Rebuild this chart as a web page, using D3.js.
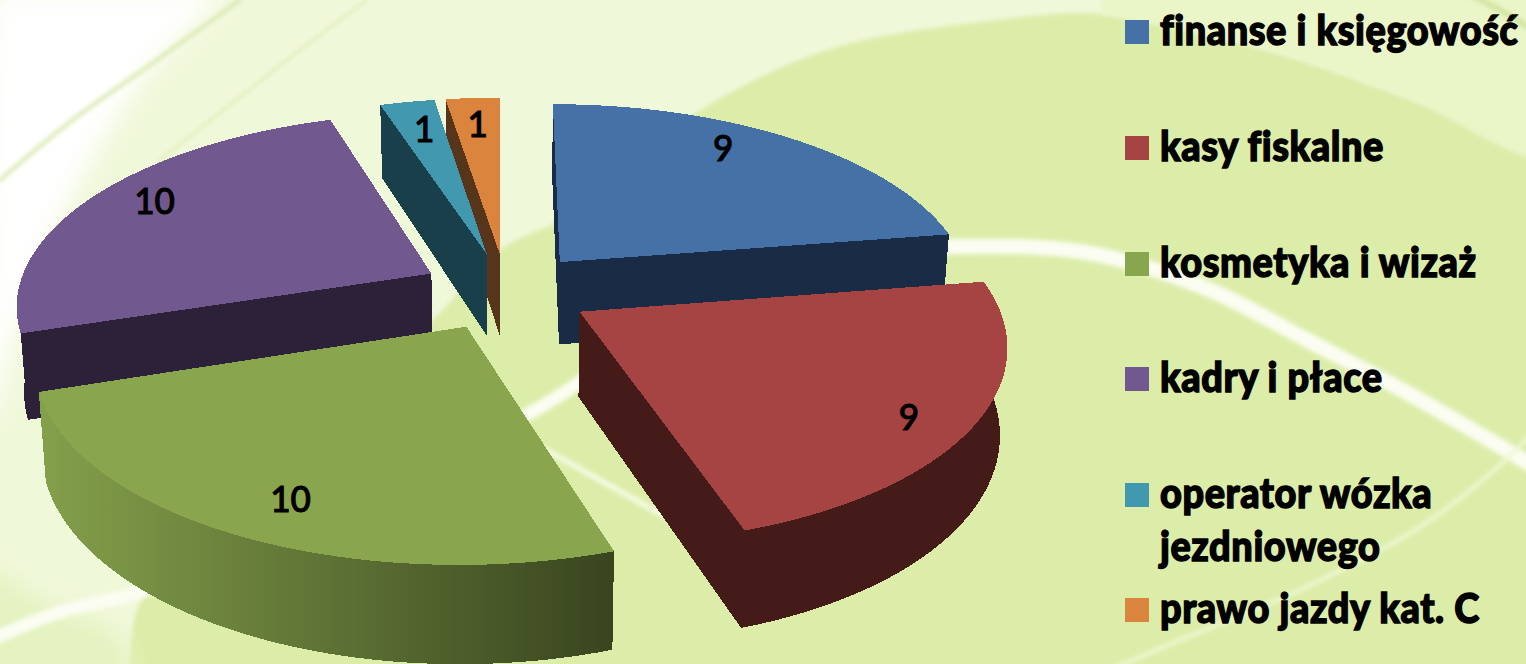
<!DOCTYPE html>
<html>
<head>
<meta charset="utf-8">
<script src="https://cdn.jsdelivr.net/npm/d3@7"></script>
<style>
    html, body { margin: 0; padding: 0; background: #dcedaa; overflow: hidden; }
    text { font-family: Lato, "Open Sans", sans-serif; fill: #000; }
</style>
</head>
<body>
<div id="chart"></div>
<script>
/*-------------------------------------DATA-------------------------------------*/

const CATEGORIES = ["finanse i księgowość", "kasy fiskalne", "kosmetyka i wizaż", "kadry i płace", "operator wózka jezdniowego", "prawo jazdy kat. C"];
const VALUES = [9, 9, 10, 10, 1, 1];
const TOP_COLORS = ["#4571a7", "#a54442", "#89a54e", "#71588f", "#4198af", "#db843d"];
const WALL_COLORS = ["#1a2c45", "#451b1a", "#5a6d33", "#2c2139", "#193f4b", "#57351a"];

/*-------------------------------------INIT-------------------------------------*/

const WIDTH = 1526;
const HEIGHT = 664;

// camera used for the tilted pie
const CENTER = { x: 506, y: 291 };
const AXIS = { x: 414, y: 190 };
const PERSPECTIVE = 0.152;
const EXPLODE = 0.205;
const DEPTH = 84;
const DEPTH_FADE = 0.13;
const LEAN = 0.985;

// where each value label sits: share of its slice's angle, distance from the apex
const LABEL_RADIUS = [0.84, 0.864, 0.83, 0.848, 0.81, 0.82];
const LABEL_SHARE = [0.41, 0.54, 0.48, 0.535, 0.58, 0.51];

const SVG = d3.select("#chart").append("svg")
    .attr("width", WIDTH)
    .attr("height", HEIGHT)
    .style("display", "block");

const defs = SVG.append("defs");
defs.append("filter").attr("id", "soft").append("feGaussianBlur").attr("stdDeviation", 2);
defs.append("filter").attr("id", "softer").append("feGaussianBlur").attr("stdDeviation", 12);

const wallGrad = defs.append("linearGradient").attr("id", "greenWall")
    .attr("gradientUnits", "userSpaceOnUse")
    .attr("x1", 40).attr("x2", 612).attr("y1", 0).attr("y2", 0);
wallGrad.append("stop").attr("offset", 0).attr("stop-color", "#84a04b");
wallGrad.append("stop").attr("offset", 1).attr("stop-color", "#39451f");

/*-------------------------------------BACKGROUND-------------------------------*/

const bg = SVG.append("g");
bg.append("rect").attr("width", WIDTH).attr("height", HEIGHT).attr("fill", "#dcedaa");

const smooth = d3.line().curve(d3.curveCatmullRom);

// light area around the green dome
bg.append("path")
    .attr("d", smooth([[1560, 158], [1526, 143], [1400, 95], [1267, 50], [1102, 14], [997, 20], [827, 50], [696, 113], [620, 175], [575, 213], [500, 250], [433, 320], [280, 460], [143, 597], [115, 690], [-20, 690], [-20, -20], [1560, -20]]) + "Z")
    .attr("fill", "#f0f8da").attr("filter", "url(#soft)");
bg.append("path")
    .attr("d", smooth([[1102, 14], [1267, 50], [1400, 95], [1560, 158], [1560, -20], [1100, -20]]) + "Z")
    .attr("fill", "#eaf5c8").attr("filter", "url(#soft)");
bg.append("path")
    .attr("d", smooth([[230, -10], [150, 70], [70, 200], [20, 320], [-10, 420], [-10, -10]]) + "Z")
    .attr("fill", "#ffffff").attr("filter", "url(#softer)");
bg.append("path")
    .attr("d", smooth([[-20, 560], [40, 600], [120, 640], [130, 690], [-20, 690]]) + "Z")
    .attr("fill", "#e4f3c0").attr("filter", "url(#softer)");

// swooshes
const swooshes = [
    { points: [[930, 247], [1030, 247], [1100, 255], [1210, 290], [1307, 340], [1420, 400], [1540, 470]], width: 15, color: "#fbfdf2" },
    { points: [[1540, 425], [1500, 465], [1420, 527], [1300, 590], [1180, 640], [1110, 670]], width: 4, color: "#eef8d2" },
    { points: [[-10, 640], [60, 612], [140, 592], [300, 520], [530, 413], [590, 375]], width: 13, color: "#fbfdf2" },
    { points: [[520, 436], [600, 480], [680, 525]], width: 5, color: "#f6fbe6" },
    { points: [[240, 0], [150, 65], [70, 122], [0, 180]], width: 4, color: "#d8e9ae" },
    { points: [[367, 0], [300, 50], [230, 105], [160, 160]], width: 3, color: "#e0efbb" },
    { points: [[1470, -5], [1500, 10], [1530, 28]], width: 5, color: "#cfe39c" }
];
bg.selectAll(".swoosh").data(swooshes).join("path")
    .attr("class", "swoosh")
    .attr("d", d => smooth(d.points))
    .attr("fill", "none")
    .attr("stroke", d => d.color)
    .attr("stroke-width", d => d.width)
    .attr("stroke-linecap", "round")
    .attr("filter", "url(#soft)");

/*-------------------------------------PIE-------------------------------------*/

const project = (u, v, drop = 0) => {
    const s = 1 / (1 + PERSPECTIVE * v);
    const x = CENTER.x + AXIS.x * u * s;
    const y = CENTER.y - AXIS.y * v * s;
    if (!drop) return [x, y];
    return [CENTER.x + (x - CENTER.x) * LEAN, y + DEPTH / (1 + DEPTH_FADE * v)];
};

const slices = d3.pie().sort(null)(VALUES).map((d, i) => {
    const mid = (d.startAngle + d.endAngle) / 2;
    const ox = EXPLODE * Math.sin(mid);
    const oy = EXPLODE * Math.cos(mid);
    const at = (angle, r = 1) => [ox + r * Math.sin(angle), oy + r * Math.cos(angle)];
    const arc = d3.range(0, 1.0001, 1 / 48).map(t => at(d.startAngle + t * (d.endAngle - d.startAngle)));
    const apex = [ox, oy];
    const share = d.startAngle + LABEL_SHARE[i] * (d.endAngle - d.startAngle);
    return { i, d, apex, arc, label: at(share, LABEL_RADIUS[i]) };
});

const poly = pts => "M" + pts.map(p => p.join(",")).join("L") + "Z";

// one wall for each edge that faces the viewer
const wall = pts => poly(pts.map(p => project(p[0], p[1])).concat(pts.slice().reverse().map(p => project(p[0], p[1], 1))));

const drawSlice = (s) => {
    const g = SVG.append("g").attr("class", "slice").attr("shape-rendering", "crispEdges");
    const first = s.arc[0];
    const last = s.arc[s.arc.length - 1];
    g.append("path").attr("d", wall([s.apex, last])).attr("fill", WALL_COLORS[s.i]);
    g.append("path").attr("d", wall([s.apex, first])).attr("fill", WALL_COLORS[s.i]);
    g.append("path").attr("d", wall(s.arc))
        .attr("fill", s.i === 2 ? "url(#greenWall)" : WALL_COLORS[s.i]);
    g.append("path")
        .attr("d", poly([s.apex].concat(s.arc).map(p => project(p[0], p[1]))))
        .attr("fill", TOP_COLORS[s.i]);
};

// back slices first
[0, 3, 5, 4, 2, 1].forEach(i => drawSlice(slices[i]));

SVG.append("g").selectAll("text").data(slices).join("text")
    .attr("x", s => project(s.label[0], s.label[1])[0])
    .attr("y", s => project(s.label[0], s.label[1])[1])
    .attr("dy", "0.38em")
    .attr("text-anchor", "middle")
    .attr("transform", s => {
        const p = project(s.label[0], s.label[1]);
        return `translate(${p[0]},0) scale(0.95,1) translate(${-p[0]},0)`;
    })
    .style("font-size", "37px")
    .style("font-weight", 500)
    .style("stroke", "#000")
    .style("stroke-width", 1)
    .text(s => VALUES[s.i]);

/*-------------------------------------LEGEND-------------------------------------*/

const LEGEND_LINES = [["finanse i księgowość"], ["kasy fiskalne"], ["kosmetyka i wizaż"], ["kadry i płace"], ["operator wózka", "jezdniowego"], ["prawo jazdy kat. C"]];
const legendY = d3.scaleOrdinal().domain(CATEGORIES).range([45, 161, 277, 392, 508, 623]);

const legend = SVG.append("g").selectAll("g").data(CATEGORIES).join("g")
    .attr("transform", c => `translate(0,${legendY(c)})`);

legend.append("rect")
    .attr("x", 1125).attr("y", -25)
    .attr("width", 24).attr("height", 24)
    .attr("fill", (c, i) => TOP_COLORS[i]);

legend.selectAll("text").data((c, i) => LEGEND_LINES[i]).join("text")
    .attr("transform", (l, i) => `translate(1160,${i * 53}) scale(0.925,1)`)
    .style("font-size", "41px")
    .style("font-weight", 900)
    .style("letter-spacing", "0.6px")
    .style("stroke", "#000")
    .style("stroke-width", 1.4)
    .text(l => l);
</script>
</body>
</html>
